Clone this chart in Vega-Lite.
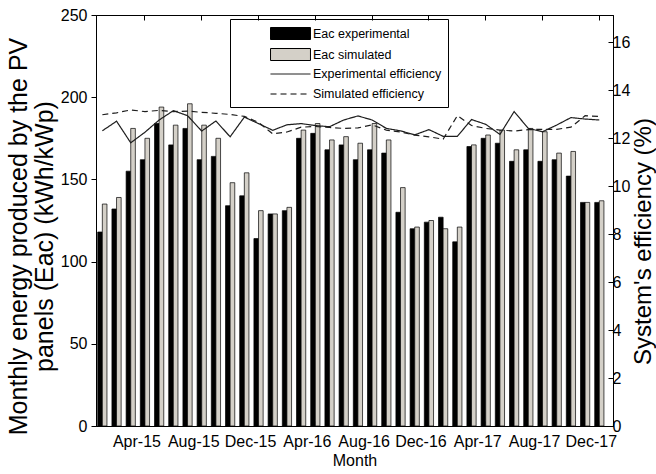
{
  "$schema": "https://vega.github.io/schema/vega-lite/v6.json",
  "width": 517,
  "height": 411,
  "autosize": "none",
  "padding": {"left": 96, "top": 15, "right": 43, "bottom": 48},
  "config": {
    "font": "Liberation Sans",
    "view": {"stroke": "black", "strokeWidth": 1},
    "axis": {
      "labelFont": "Liberation Sans",
      "titleFont": "Liberation Sans",
      "labelColor": "black",
      "titleColor": "black",
      "domainColor": "black",
      "tickColor": "black",
      "grid": false,
      "labelFontSize": 16,
      "titleFontSize": 25,
      "titleFontWeight": "normal"
    }
  },
  "data": {
    "values": [
      {"month": "Jan-15", "Eac experimental": 118, "Eac simulated": 135, "Experimental efficiency": 12.3, "Simulated efficiency": 12.97},
      {"month": "Feb-15", "Eac experimental": 132, "Eac simulated": 139, "Experimental efficiency": 12.7, "Simulated efficiency": 13.05},
      {"month": "Mar-15", "Eac experimental": 155, "Eac simulated": 181, "Experimental efficiency": 11.8, "Simulated efficiency": 13.17},
      {"month": "Apr-15", "Eac experimental": 162, "Eac simulated": 175, "Experimental efficiency": 12.24, "Simulated efficiency": 13.1},
      {"month": "May-15", "Eac experimental": 184, "Eac simulated": 194, "Experimental efficiency": 12.75, "Simulated efficiency": 13.15},
      {"month": "Jun-15", "Eac experimental": 171, "Eac simulated": 183, "Experimental efficiency": 13.14, "Simulated efficiency": 13.1},
      {"month": "Jul-15", "Eac experimental": 181, "Eac simulated": 196, "Experimental efficiency": 12.93, "Simulated efficiency": 13.12},
      {"month": "Aug-15", "Eac experimental": 162, "Eac simulated": 183, "Experimental efficiency": 12.29, "Simulated efficiency": 13.07},
      {"month": "Sep-15", "Eac experimental": 164, "Eac simulated": 175, "Experimental efficiency": 12.71, "Simulated efficiency": 13.03},
      {"month": "Oct-15", "Eac experimental": 134, "Eac simulated": 148, "Experimental efficiency": 12.05, "Simulated efficiency": 12.98},
      {"month": "Nov-15", "Eac experimental": 140, "Eac simulated": 154, "Experimental efficiency": 12.87, "Simulated efficiency": 12.9},
      {"month": "Dec-15", "Eac experimental": 114, "Eac simulated": 131, "Experimental efficiency": 12.6, "Simulated efficiency": 12.65},
      {"month": "Jan-16", "Eac experimental": 129, "Eac simulated": 129, "Experimental efficiency": 12.32, "Simulated efficiency": 12.17},
      {"month": "Feb-16", "Eac experimental": 131, "Eac simulated": 133, "Experimental efficiency": 12.55, "Simulated efficiency": 12.25},
      {"month": "Mar-16", "Eac experimental": 175, "Eac simulated": 180, "Experimental efficiency": 12.6, "Simulated efficiency": 12.45},
      {"month": "Apr-16", "Eac experimental": 178, "Eac simulated": 184, "Experimental efficiency": 12.52, "Simulated efficiency": 12.48},
      {"month": "May-16", "Eac experimental": 168, "Eac simulated": 174, "Experimental efficiency": 12.47, "Simulated efficiency": 12.44},
      {"month": "Jun-16", "Eac experimental": 171, "Eac simulated": 176, "Experimental efficiency": 12.75, "Simulated efficiency": 12.4},
      {"month": "Jul-16", "Eac experimental": 162, "Eac simulated": 172, "Experimental efficiency": 12.92, "Simulated efficiency": 12.42},
      {"month": "Aug-16", "Eac experimental": 168, "Eac simulated": 184, "Experimental efficiency": 12.75, "Simulated efficiency": 12.55},
      {"month": "Sep-16", "Eac experimental": 166, "Eac simulated": 174, "Experimental efficiency": 12.4, "Simulated efficiency": 12.33},
      {"month": "Oct-16", "Eac experimental": 130, "Eac simulated": 145, "Experimental efficiency": 12.3, "Simulated efficiency": 12.25},
      {"month": "Nov-16", "Eac experimental": 120, "Eac simulated": 121, "Experimental efficiency": 12.13, "Simulated efficiency": 12.12},
      {"month": "Dec-16", "Eac experimental": 124, "Eac simulated": 125, "Experimental efficiency": 12.35, "Simulated efficiency": 12.05},
      {"month": "Jan-17", "Eac experimental": 127, "Eac simulated": 120, "Experimental efficiency": 12.07, "Simulated efficiency": 11.95},
      {"month": "Feb-17", "Eac experimental": 112, "Eac simulated": 121, "Experimental efficiency": 12.07, "Simulated efficiency": 12.93},
      {"month": "Mar-17", "Eac experimental": 170, "Eac simulated": 171, "Experimental efficiency": 12.77, "Simulated efficiency": 12.52},
      {"month": "Apr-17", "Eac experimental": 175, "Eac simulated": 177, "Experimental efficiency": 12.57, "Simulated efficiency": 12.4},
      {"month": "May-17", "Eac experimental": 172, "Eac simulated": 180, "Experimental efficiency": 12.15, "Simulated efficiency": 12.33},
      {"month": "Jun-17", "Eac experimental": 161, "Eac simulated": 168, "Experimental efficiency": 13.1, "Simulated efficiency": 12.29},
      {"month": "Jul-17", "Eac experimental": 168, "Eac simulated": 181, "Experimental efficiency": 12.4, "Simulated efficiency": 12.35},
      {"month": "Aug-17", "Eac experimental": 161, "Eac simulated": 179, "Experimental efficiency": 12.26, "Simulated efficiency": 12.36},
      {"month": "Sep-17", "Eac experimental": 162, "Eac simulated": 166, "Experimental efficiency": 12.54, "Simulated efficiency": 12.36},
      {"month": "Oct-17", "Eac experimental": 152, "Eac simulated": 167, "Experimental efficiency": 12.85, "Simulated efficiency": 12.45},
      {"month": "Nov-17", "Eac experimental": 136, "Eac simulated": 136, "Experimental efficiency": 12.79, "Simulated efficiency": 12.93},
      {"month": "Dec-17", "Eac experimental": 136, "Eac simulated": 137, "Experimental efficiency": 12.75, "Simulated efficiency": 12.9}
    ]
  },
  "layer": [
    {
      "transform": [{"fold": ["Eac experimental", "Eac simulated"], "as": ["series", "eac"]}],
      "mark": {"type": "bar", "stroke": "black", "strokeWidth": 0.7},
      "encoding": {
        "x": {
          "field": "month", "type": "ordinal", "sort": null,
          "scale": {"paddingInner": 0.35, "paddingOuter": 0.38, "align": 0.16},
          "axis": {
            "values": ["Apr-15", "Aug-15", "Dec-15", "Apr-16", "Aug-16", "Dec-16", "Apr-17", "Aug-17", "Dec-17"],
            "labelAngle": 0, "tickSize": -5, "labelPadding": 12, "labelOffset": -8,
            "title": "Month", "titleFontSize": 16, "titlePadding": 3
          }
        },
        "xOffset": {"field": "series", "type": "nominal", "sort": ["Eac experimental", "Eac simulated"]},
        "y": {
          "field": "eac", "type": "quantitative",
          "scale": {"domain": [0, 250], "nice": false},
          "axis": {
            "values": [0, 50, 100, 150, 200, 250], "tickSize": 5, "labelPadding": 4,
            "title": ["Monthly energy produced by the PV", "panels (Eac) (kWh/kWp)"],
            "titlePadding": 3, "titleLineHeight": 26, "titleY": 221
          }
        },
        "fill": {
          "field": "series", "type": "nominal",
          "scale": {"domain": ["Eac experimental", "Eac simulated"], "range": ["black", "#d4d0c8"]},
          "legend": {
            "orient": "none", "legendX": 134, "legendY": 6, "title": null, "padding": 6,
            "labelFont": "Liberation Sans", "labelFontSize": 12.5, "labelColor": "black",
            "symbolType": "M-3.33,-1H3.33V1H-3.33Z", "symbolSize": 144,
            "symbolStrokeColor": "black", "symbolStrokeWidth": 1, "symbolOpacity": 1,
            "symbolOffset": 48, "labelOffset": 16, "rowPadding": 4
          }
        }
      }
    },
    {
      "transform": [{"fold": ["Experimental efficiency", "Simulated efficiency"], "as": ["series", "eff"]}],
      "mark": {"type": "line", "strokeWidth": 1.2, "color": "#1e1e1e"},
      "encoding": {
        "x": {
          "field": "month", "type": "ordinal", "sort": null,
          "axis": {
            "orient": "top", "labels": false, "title": null, "tickSize": -5,
            "values": ["Apr-15", "Aug-15", "Dec-15", "Apr-16", "Aug-16", "Dec-16", "Apr-17", "Aug-17", "Dec-17"]
          }
        },
        "y": {
          "field": "eff", "type": "quantitative",
          "scale": {"domain": [0, 17.125], "nice": false},
          "axis": {
            "orient": "right", "values": [0, 2, 4, 6, 8, 10, 12, 14, 16], "tickSize": -5, "labelPadding": 4,
            "title": "System's efficiency (%)", "titleFontSize": 24, "titleAngle": 270, "titleBaseline": "top",
            "titlePadding": 2, "titleY": 226
          }
        },
        "strokeDash": {
          "field": "series", "type": "nominal",
          "scale": {"domain": ["Experimental efficiency", "Simulated efficiency"], "range": [[1, 0], [6, 4]]},
          "legend": {
            "orient": "none", "legendX": 134, "legendY": 4,
            "title": [" ", " "], "titleFontSize": 12.5, "titleLineHeight": 20, "titlePadding": 10, "titleAnchor": "start",
            "strokeColor": "black", "padding": 6, "cornerRadius": 0,
            "labelFont": "Liberation Sans", "labelFontSize": 12.5, "labelColor": "black",
            "symbolType": "M-3.33,0H3.33", "symbolSize": 144,
            "symbolStrokeColor": "black", "symbolStrokeWidth": 1, "symbolOpacity": 1,
            "symbolOffset": 48, "labelOffset": 16, "rowPadding": 7
          }
        }
      }
    }
  ],
  "resolve": {"scale": {"y": "independent"}, "axis": {"x": "independent"}}
}
